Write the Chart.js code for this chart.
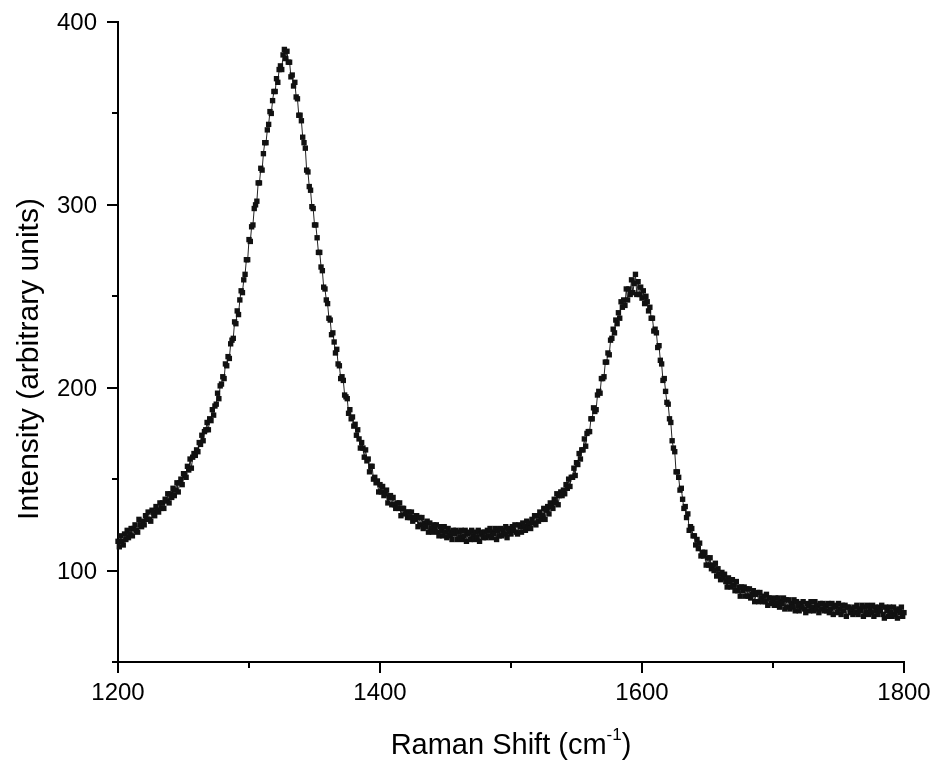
<!DOCTYPE html>
<html>
<head>
<meta charset="utf-8">
<script src="https://cdn.jsdelivr.net/npm/chart.js@4.4.1/dist/chart.umd.min.js"></script>
<style>
html,body{margin:0;padding:0;background:#fff;}
canvas{display:block;}
</style>
</head>
<body>
<canvas id="c" width="935" height="763"></canvas>
<script>
// Raman shift (cm^-1), one reading per wavenumber
const ramanShift = [
1200,1201,1202,1203,1204,1205,1206,1207,1208,1209,1210,1211,1212,1213,1214,1215,1216,1217,1218,1219,
1220,1221,1222,1223,1224,1225,1226,1227,1228,1229,1230,1231,1232,1233,1234,1235,1236,1237,1238,1239,
1240,1241,1242,1243,1244,1245,1246,1247,1248,1249,1250,1251,1252,1253,1254,1255,1256,1257,1258,1259,
1260,1261,1262,1263,1264,1265,1266,1267,1268,1269,1270,1271,1272,1273,1274,1275,1276,1277,1278,1279,
1280,1281,1282,1283,1284,1285,1286,1287,1288,1289,1290,1291,1292,1293,1294,1295,1296,1297,1298,1299,
1300,1301,1302,1303,1304,1305,1306,1307,1308,1309,1310,1311,1312,1313,1314,1315,1316,1317,1318,1319,
1320,1321,1322,1323,1324,1325,1326,1327,1328,1329,1330,1331,1332,1333,1334,1335,1336,1337,1338,1339,
1340,1341,1342,1343,1344,1345,1346,1347,1348,1349,1350,1351,1352,1353,1354,1355,1356,1357,1358,1359,
1360,1361,1362,1363,1364,1365,1366,1367,1368,1369,1370,1371,1372,1373,1374,1375,1376,1377,1378,1379,
1380,1381,1382,1383,1384,1385,1386,1387,1388,1389,1390,1391,1392,1393,1394,1395,1396,1397,1398,1399,
1400,1401,1402,1403,1404,1405,1406,1407,1408,1409,1410,1411,1412,1413,1414,1415,1416,1417,1418,1419,
1420,1421,1422,1423,1424,1425,1426,1427,1428,1429,1430,1431,1432,1433,1434,1435,1436,1437,1438,1439,
1440,1441,1442,1443,1444,1445,1446,1447,1448,1449,1450,1451,1452,1453,1454,1455,1456,1457,1458,1459,
1460,1461,1462,1463,1464,1465,1466,1467,1468,1469,1470,1471,1472,1473,1474,1475,1476,1477,1478,1479,
1480,1481,1482,1483,1484,1485,1486,1487,1488,1489,1490,1491,1492,1493,1494,1495,1496,1497,1498,1499,
1500,1501,1502,1503,1504,1505,1506,1507,1508,1509,1510,1511,1512,1513,1514,1515,1516,1517,1518,1519,
1520,1521,1522,1523,1524,1525,1526,1527,1528,1529,1530,1531,1532,1533,1534,1535,1536,1537,1538,1539,
1540,1541,1542,1543,1544,1545,1546,1547,1548,1549,1550,1551,1552,1553,1554,1555,1556,1557,1558,1559,
1560,1561,1562,1563,1564,1565,1566,1567,1568,1569,1570,1571,1572,1573,1574,1575,1576,1577,1578,1579,
1580,1581,1582,1583,1584,1585,1586,1587,1588,1589,1590,1591,1592,1593,1594,1595,1596,1597,1598,1599,
1600,1601,1602,1603,1604,1605,1606,1607,1608,1609,1610,1611,1612,1613,1614,1615,1616,1617,1618,1619,
1620,1621,1622,1623,1624,1625,1626,1627,1628,1629,1630,1631,1632,1633,1634,1635,1636,1637,1638,1639,
1640,1641,1642,1643,1644,1645,1646,1647,1648,1649,1650,1651,1652,1653,1654,1655,1656,1657,1658,1659,
1660,1661,1662,1663,1664,1665,1666,1667,1668,1669,1670,1671,1672,1673,1674,1675,1676,1677,1678,1679,
1680,1681,1682,1683,1684,1685,1686,1687,1688,1689,1690,1691,1692,1693,1694,1695,1696,1697,1698,1699,
1700,1701,1702,1703,1704,1705,1706,1707,1708,1709,1710,1711,1712,1713,1714,1715,1716,1717,1718,1719,
1720,1721,1722,1723,1724,1725,1726,1727,1728,1729,1730,1731,1732,1733,1734,1735,1736,1737,1738,1739,
1740,1741,1742,1743,1744,1745,1746,1747,1748,1749,1750,1751,1752,1753,1754,1755,1756,1757,1758,1759,
1760,1761,1762,1763,1764,1765,1766,1767,1768,1769,1770,1771,1772,1773,1774,1775,1776,1777,1778,1779,
1780,1781,1782,1783,1784,1785,1786,1787,1788,1789,1790,1791,1792,1793,1794,1795,1796,1797,1798,1799,1800
];
// Intensity (arbitrary units)
const intensity = [
116,113,119,116,114,120,117,122,118,120,123,119,123,125,122,121,128,125,124,127,
125,130,128,132,128,127,133,132,130,135,133,132,137,134,137,134,139,138,142,137,
142,140,145,141,144,148,143,148,150,147,153,152,151,157,155,161,156,162,164,163,
166,165,170,169,174,171,176,177,181,177,183,182,188,185,190,191,197,194,201,202,
206,205,213,212,217,216,224,226,227,236,235,242,240,248,253,252,259,262,270,270,
281,280,288,289,298,300,302,312,312,320,319,328,334,334,341,344,351,350,357,362,
362,369,367,374,376,374,382,385,380,384,378,378,370,371,365,367,359,358,349,349,
346,337,334,331,319,318,310,308,299,298,289,289,282,274,274,266,264,255,254,248,
246,238,237,229,230,225,219,221,213,212,205,206,204,196,195,194,186,188,183,184,
179,180,174,177,172,167,170,167,162,166,160,161,154,157,157,150,151,148,149,143,
147,143,146,141,142,144,137,140,141,136,140,136,134,137,134,137,130,134,134,131,
132,129,132,129,132,127,129,128,130,124,129,125,129,123,126,124,127,121,126,123,
121,125,123,125,121,119,124,122,119,124,121,118,123,119,121,117,122,120,122,117,
121,118,122,117,119,122,116,120,121,117,122,119,117,121,118,122,116,120,121,118,
121,118,122,119,123,118,121,120,123,117,122,119,123,119,122,120,124,118,123,121,
120,124,122,125,121,120,125,124,121,126,124,122,127,124,126,123,128,126,130,125,
130,127,132,128,130,134,128,133,135,131,137,135,134,139,137,142,136,141,143,141,
144,142,147,145,150,146,151,151,156,152,159,158,164,161,166,166,172,168,175,176,
176,183,183,189,187,188,196,198,197,205,205,206,214,214,219,218,226,227,232,230,
237,235,241,238,247,244,248,245,254,248,254,251,259,252,257,262,251,258,251,255,
249,253,246,250,247,242,244,238,238,231,232,230,222,223,215,213,204,205,198,192,
191,183,181,171,167,165,154,154,151,144,145,139,134,135,129,131,122,124,123,119,
119,114,117,112,115,108,110,108,110,103,107,103,107,101,103,100,104,97,101,98,
95,99,96,98,94,91,96,94,91,95,92,89,94,89,91,86,91,89,91,86,
90,86,90,85,87,89,83,87,88,83,88,85,83,86,83,87,81,85,85,82,
84,81,85,82,85,80,83,82,85,79,84,80,84,79,82,80,84,78,83,81,
78,82,80,83,79,77,82,81,78,83,80,78,83,79,81,77,82,79,82,78,
81,78,82,77,79,82,76,80,81,77,82,79,76,81,78,81,75,80,80,77,
79,76,80,77,81,76,79,78,81,75,80,77,81,76,79,77,81,75,80,78,
76,80,78,81,76,74,80,78,75,80,77,75,80,76,78,74,79,77,80,75,77
];
const xTicks = [1200,1300,1400,1500,1600,1700,1800];
const xLabelTicks = [1200,1400,1600,1800];
const yTicks = [50,100,150,200,250,300,350,400];
const yLabelTicks = [100,200,300,400];
const xTitle = "Raman Shift (cm";
const xTitleSup = "-1";
const xTitleEnd = ")";
const yTitle = "Intensity (arbitrary units)";

const FONT = '"Liberation Sans", Arial, Helvetica, sans-serif';

const points = ramanShift.map((x, i) => ({x: x, y: intensity[i]}));

const axisPlugin = {
  id: 'axisDeco',
  afterDraw(chart) {
    const ctx = chart.ctx;
    const xs = chart.scales.x, ys = chart.scales.y;
    const area = chart.chartArea;
    ctx.save();
    ctx.strokeStyle = '#000';
    ctx.fillStyle = '#000';
    ctx.lineWidth = 2;
    ctx.font = '24px ' + FONT;
    ctx.textAlign = 'right';
    ctx.textBaseline = 'middle';
    yTicks.forEach(v => {
      const py = Math.round(ys.getPixelForValue(v));
      const major = yLabelTicks.includes(v);
      const len = major ? 11 : 6;
      ctx.beginPath();
      ctx.moveTo(area.left - len, py);
      ctx.lineTo(area.left, py);
      ctx.stroke();
      if (major) ctx.fillText(String(v), area.left - 21, py + 1);
    });
    ctx.textAlign = 'center';
    xTicks.forEach(v => {
      const px = Math.round(xs.getPixelForValue(v));
      const major = xLabelTicks.includes(v);
      const len = major ? 11 : 6;
      ctx.beginPath();
      ctx.moveTo(px, area.bottom);
      ctx.lineTo(px, area.bottom + len);
      ctx.stroke();
      if (major) ctx.fillText(String(v), px, area.bottom + 31);
    });
    // x title with superscript
    ctx.font = '29px ' + FONT;
    const w1 = ctx.measureText(xTitle).width;
    ctx.font = '17px ' + FONT;
    const w2 = ctx.measureText(xTitleSup).width;
    ctx.font = '29px ' + FONT;
    const w3 = ctx.measureText(xTitleEnd).width;
    const total = w1 + w2 + w3;
    const cx = (area.left + area.right) / 2;
    const sx = cx - total / 2;
    ctx.textAlign = 'left';
    ctx.textBaseline = 'alphabetic';
    const by = 754;
    ctx.fillText(xTitle, sx, by);
    ctx.font = '17px ' + FONT;
    ctx.fillText(xTitleSup, sx + w1, by - 14);
    ctx.font = '29px ' + FONT;
    ctx.fillText(xTitleEnd, sx + w1 + w2, by);
    // y title
    ctx.save();
    ctx.translate(38, 359);
    ctx.rotate(-Math.PI / 2);
    ctx.textAlign = 'center';
    ctx.textBaseline = 'alphabetic';
    ctx.font = '30px ' + FONT;
    ctx.fillText(yTitle, 0, 0);
    ctx.restore();
    ctx.restore();
  }
};

new Chart(document.getElementById('c'), {
  type: 'scatter',
  data: {
    datasets: [{
      data: points,
      showLine: true,
      borderColor: '#222222',
      borderWidth: 1,
      pointStyle: 'rect',
      pointRadius: 3.8,
      pointBackgroundColor: '#111111',
      pointBorderColor: '#111111',
      pointBorderWidth: 0,
      tension: 0,
      clip: 4
    }]
  },
  options: {
    responsive: false,
    animation: false,
    devicePixelRatio: 1,
    layout: {padding: {left: 118, right: 31, top: 22, bottom: 101}},
    plugins: {legend: {display: false}, tooltip: {enabled: false}},
    scales: {
      x: {
        type: 'linear', min: 1200, max: 1800,
        grid: {display: false, drawTicks: false},
        border: {display: true, color: '#000', width: 2},
        ticks: {display: false}
      },
      y: {
        type: 'linear', min: 50, max: 400,
        grid: {display: false, drawTicks: false},
        border: {display: true, color: '#000', width: 2},
        ticks: {display: false}
      }
    }
  },
  plugins: [axisPlugin]
});
</script>
</body>
</html>
